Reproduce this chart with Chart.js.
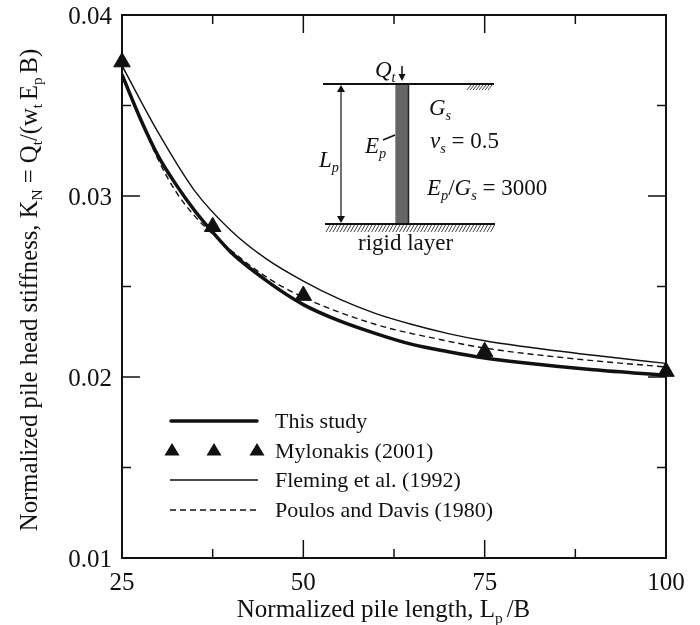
<!DOCTYPE html>
<html>
<head>
<meta charset="utf-8">
<style>
  html, body { margin: 0; padding: 0; background: #fff; }
  #wrap { width: 700px; height: 625px; }
</style>
<script src="https://cdn.jsdelivr.net/npm/chart.js@4"></script>
</head>
<body>
<div id="wrap"><canvas id="chart" width="700" height="625"></canvas></div>
<script>
const thisStudyX = [25, 27.5, 30, 32.5, 35, 37.5, 40, 45, 50, 55, 60, 65, 70, 75, 80, 90, 100];
const thisStudyY = [0.0367, 0.0343, 0.0322, 0.0306, 0.0292, 0.0280, 0.0269, 0.0253, 0.0240, 0.0231, 0.0224, 0.0218, 0.0214, 0.02105, 0.0208, 0.0204, 0.0201];
const flemingX = [25, 30, 35, 40, 45, 50, 55, 60, 65, 70, 75, 80, 90, 100];
const flemingY = [0.0372, 0.0335, 0.0303, 0.0281, 0.0265, 0.0253, 0.0243, 0.0235, 0.0229, 0.0224, 0.0220, 0.0217, 0.0212, 0.02075];
const poulosX = [25, 30, 32.5, 35, 37.5, 40, 45, 50, 60, 68.5, 75, 87.5, 100];
const poulosY = [0.0368, 0.0320, 0.0302, 0.0289, 0.0279, 0.0270, 0.0255, 0.0244, 0.0229, 0.0221, 0.0216, 0.0210, 0.02055];
const mylonakisX = [25, 37.5, 50, 75, 100];
const mylonakisY = [0.0374, 0.0283, 0.0245, 0.0214, 0.0203];

const xTicks = [25, 50, 75, 100];
const yTicks = [0.01, 0.02, 0.03, 0.04];
const legendLabels = ["This study", "Mylonakis (2001)", "Fleming et al. (1992)", "Poulos and Davis (1980)"];

const SERIF = '"Liberation Serif", "Times New Roman", serif';
const INK = "#111";

const toPoints = (xs, ys) => xs.map((x, i) => ({ x: x, y: ys[i] }));

// mixed text with subscripts, runs are [text, "n" | "i" | "sub" | "isub"]
function drawRuns(ctx, x, y, runs, size) {
    let cx = x;
    runs.forEach(run => {
        const style = run[1] || "n";
        const isSub = style === "sub" || style === "isub";
        const italic = style === "i" || style === "isub";
        const s = isSub ? size * 0.62 : size;
        ctx.font = (italic ? "italic " : "") + s + "px " + SERIF;
        ctx.fillText(run[0], cx, isSub ? y + size * 0.22 : y);
        cx += ctx.measureText(run[0]).width;
    });
    return cx;
}

function runsWidth(ctx, runs, size) {
    let w = 0;
    runs.forEach(run => {
        const style = run[1] || "n";
        const isSub = style === "sub" || style === "isub";
        const italic = style === "i" || style === "isub";
        ctx.font = (italic ? "italic " : "") + (isSub ? size * 0.62 : size) + "px " + SERIF;
        w += ctx.measureText(run[0]).width;
    });
    return w;
}

function line(ctx, x1, y1, x2, y2, width) {
    ctx.lineWidth = width;
    ctx.beginPath();
    ctx.moveTo(x1, y1);
    ctx.lineTo(x2, y2);
    ctx.stroke();
}

// inward ticks on all four sides and the numbers, placed off the scales
const frameTicks = {
    id: "frameTicks",
    beforeDatasetsDraw(chart) {
        const { ctx, chartArea: a, scales } = chart;
        ctx.save();
        ctx.strokeStyle = INK;
        for (let v = 25; v <= 100; v += 12.5) {
            const px = scales.x.getPixelForValue(v);
            const len = xTicks.includes(v) ? 18 : 9;
            line(ctx, px, a.bottom, px, a.bottom - len, 1.5);
            line(ctx, px, a.top, px, a.top + len, 1.5);
        }
        for (let i = 0; i <= 6; i++) {
            const v = 0.01 + i * 0.005;
            const px = scales.y.getPixelForValue(v);
            const len = i % 2 === 0 ? 18 : 9;
            line(ctx, a.left, px, a.left + len, px, 1.5);
            line(ctx, a.right, px, a.right - len, px, 1.5);
        }
        ctx.lineWidth = 2;
        ctx.strokeRect(a.left, a.top, a.right - a.left, a.bottom - a.top);

        ctx.fillStyle = INK;
        ctx.font = "25px " + SERIF;
        ctx.textBaseline = "alphabetic";
        ctx.textAlign = "center";
        xTicks.forEach(v => ctx.fillText(String(v), scales.x.getPixelForValue(v), 590));
        ctx.textAlign = "right";
        yTicks.forEach(v => ctx.fillText(v.toFixed(2), 112, scales.y.getPixelForValue(v) + 8.5));
        ctx.restore();
    }
};

const axisTitles = {
    id: "axisTitles",
    afterDraw(chart) {
        const { ctx } = chart;
        ctx.save();
        ctx.fillStyle = INK;
        ctx.textBaseline = "alphabetic";
        ctx.textAlign = "left";

        const xRuns = [["Normalized pile length, L"], ["p ", "sub"], ["/B"]];
        drawRuns(ctx, 383.5 - runsWidth(ctx, xRuns, 25) / 2, 617, xRuns, 25);

        const yRuns = [["Normalized pile head stiffness, K"], ["N", "sub"], [" = Q"], ["t", "sub"], ["/(w"], ["t ", "sub"], ["E"], ["p ", "sub"], ["B)"]];
        ctx.translate(37, 290);
        ctx.rotate(-Math.PI / 2);
        drawRuns(ctx, -runsWidth(ctx, yRuns, 24.7) / 2, 0, yRuns, 24.7);
        ctx.restore();
    }
};

const legendBox = {
    id: "legendBox",
    afterDraw(chart) {
        const { ctx } = chart;
        const rows = [421, 451, 480, 510];
        ctx.save();
        ctx.fillStyle = INK;
        ctx.strokeStyle = INK;
        ctx.textBaseline = "middle";
        ctx.textAlign = "left";
        ctx.font = "22px " + SERIF;
        legendLabels.forEach((label, i) => ctx.fillText(label, 275, rows[i] + 1));

        ctx.lineCap = "round";
        line(ctx, 171, rows[0], 257, rows[0], 3.5);
        ctx.lineCap = "butt";
        [172, 214, 257].forEach(x => {
            ctx.beginPath();
            ctx.moveTo(x, rows[1] - 8);
            ctx.lineTo(x + 7.5, rows[1] + 4.5);
            ctx.lineTo(x - 7.5, rows[1] + 4.5);
            ctx.closePath();
            ctx.fill();
        });
        line(ctx, 170, rows[2], 258, rows[2], 1.5);
        ctx.setLineDash([6, 4]);
        line(ctx, 170, rows[3], 258, rows[3], 1.3);
        ctx.restore();
    }
};

// pile sketch in the upper right of the plot
const pileSketch = {
    id: "pileSketch",
    afterDraw(chart) {
        const { ctx } = chart;
        ctx.save();
        ctx.fillStyle = "#666";
        ctx.fillRect(395, 84, 14, 140);
        ctx.strokeStyle = "#999";
        line(ctx, 395.5, 84, 395.5, 224, 1);
        ctx.strokeStyle = "#222";
        line(ctx, 408.5, 84, 408.5, 224, 1.5);
        ctx.strokeStyle = INK;
        line(ctx, 323, 84, 494, 84, 2);
        line(ctx, 325, 224, 495, 224, 2);

        // hatching
        ctx.lineWidth = 0.8;
        for (let x = 327; x < 494; x += 3.5) {
            ctx.beginPath();
            ctx.moveTo(x + 3, 225);
            ctx.lineTo(x - 1, 232);
            ctx.stroke();
        }
        for (let x = 468; x < 491; x += 3) {
            ctx.beginPath();
            ctx.moveTo(x + 3, 85);
            ctx.lineTo(x - 1, 90);
            ctx.stroke();
        }

        // length arrow
        ctx.fillStyle = INK;
        line(ctx, 341, 88, 341, 220, 1.2);
        ctx.beginPath();
        ctx.moveTo(341, 85); ctx.lineTo(345, 92); ctx.lineTo(337, 92); ctx.closePath(); ctx.fill();
        ctx.beginPath();
        ctx.moveTo(341, 223); ctx.lineTo(345, 216); ctx.lineTo(337, 216); ctx.closePath(); ctx.fill();

        // load arrow
        line(ctx, 402, 66, 402, 76, 1.5);
        ctx.beginPath();
        ctx.moveTo(402, 81); ctx.lineTo(405.5, 74); ctx.lineTo(398.5, 74); ctx.closePath(); ctx.fill();

        // leader to E_p
        line(ctx, 383, 140, 395, 135, 1.5);

        ctx.textBaseline = "alphabetic";
        ctx.textAlign = "left";
        const size = 23;
        drawRuns(ctx, 375, 77, [["Q", "i"], ["t", "isub"]], size);
        drawRuns(ctx, 429, 115, [["G", "i"], ["s", "isub"]], size);
        drawRuns(ctx, 430, 148, [["ν", "i"], ["s", "isub"], [" = 0.5"]], size);
        drawRuns(ctx, 427, 195, [["E", "i"], ["p", "isub"], ["/"], ["G", "i"], ["s", "isub"], [" = 3000"]], size);
        drawRuns(ctx, 365, 153, [["E", "i"], ["p", "isub"]], size);
        drawRuns(ctx, 319, 167, [["L", "i"], ["p", "isub"]], size);
        ctx.font = "23px " + SERIF;
        ctx.fillText("rigid layer", 358, 250);
        ctx.restore();
    }
};

new Chart(document.getElementById("chart").getContext("2d"), {
    type: "scatter",
    data: {
        datasets: [
            { label: legendLabels[0], data: toPoints(thisStudyX, thisStudyY), showLine: true, borderColor: INK, borderWidth: 3.5, pointRadius: 0, cubicInterpolationMode: "monotone" },
            { label: legendLabels[1], data: toPoints(mylonakisX, mylonakisY), showLine: false, pointStyle: "triangle", pointRadius: 9.5, backgroundColor: INK, borderColor: INK, clip: false },
            { label: legendLabels[2], data: toPoints(flemingX, flemingY), showLine: true, borderColor: INK, borderWidth: 1.4, pointRadius: 0, cubicInterpolationMode: "monotone" },
            { label: legendLabels[3], data: toPoints(poulosX, poulosY), showLine: true, borderColor: INK, borderWidth: 1.4, borderDash: [6, 4], pointRadius: 0, cubicInterpolationMode: "monotone" }
        ]
    },
    options: {
        responsive: false,
        animation: false,
        layout: { padding: { left: 0, top: 15, right: 34, bottom: 0 } },
        plugins: { legend: { display: false }, tooltip: { enabled: false } },
        scales: {
            x: {
                type: "linear",
                min: 25,
                max: 100,
                afterFit(scale) { scale.height = 67; scale.paddingLeft = 0; scale.paddingRight = 0; },
                grid: { display: false },
                border: { display: false },
                ticks: { display: false }
            },
            y: {
                type: "linear",
                min: 0.01,
                max: 0.04,
                afterFit(scale) { scale.width = 122; scale.paddingTop = 0; scale.paddingBottom = 0; },
                grid: { display: false },
                border: { display: false },
                ticks: { display: false }
            }
        }
    },
    plugins: [frameTicks, axisTitles, legendBox, pileSketch]
});
</script>
</body>
</html>
